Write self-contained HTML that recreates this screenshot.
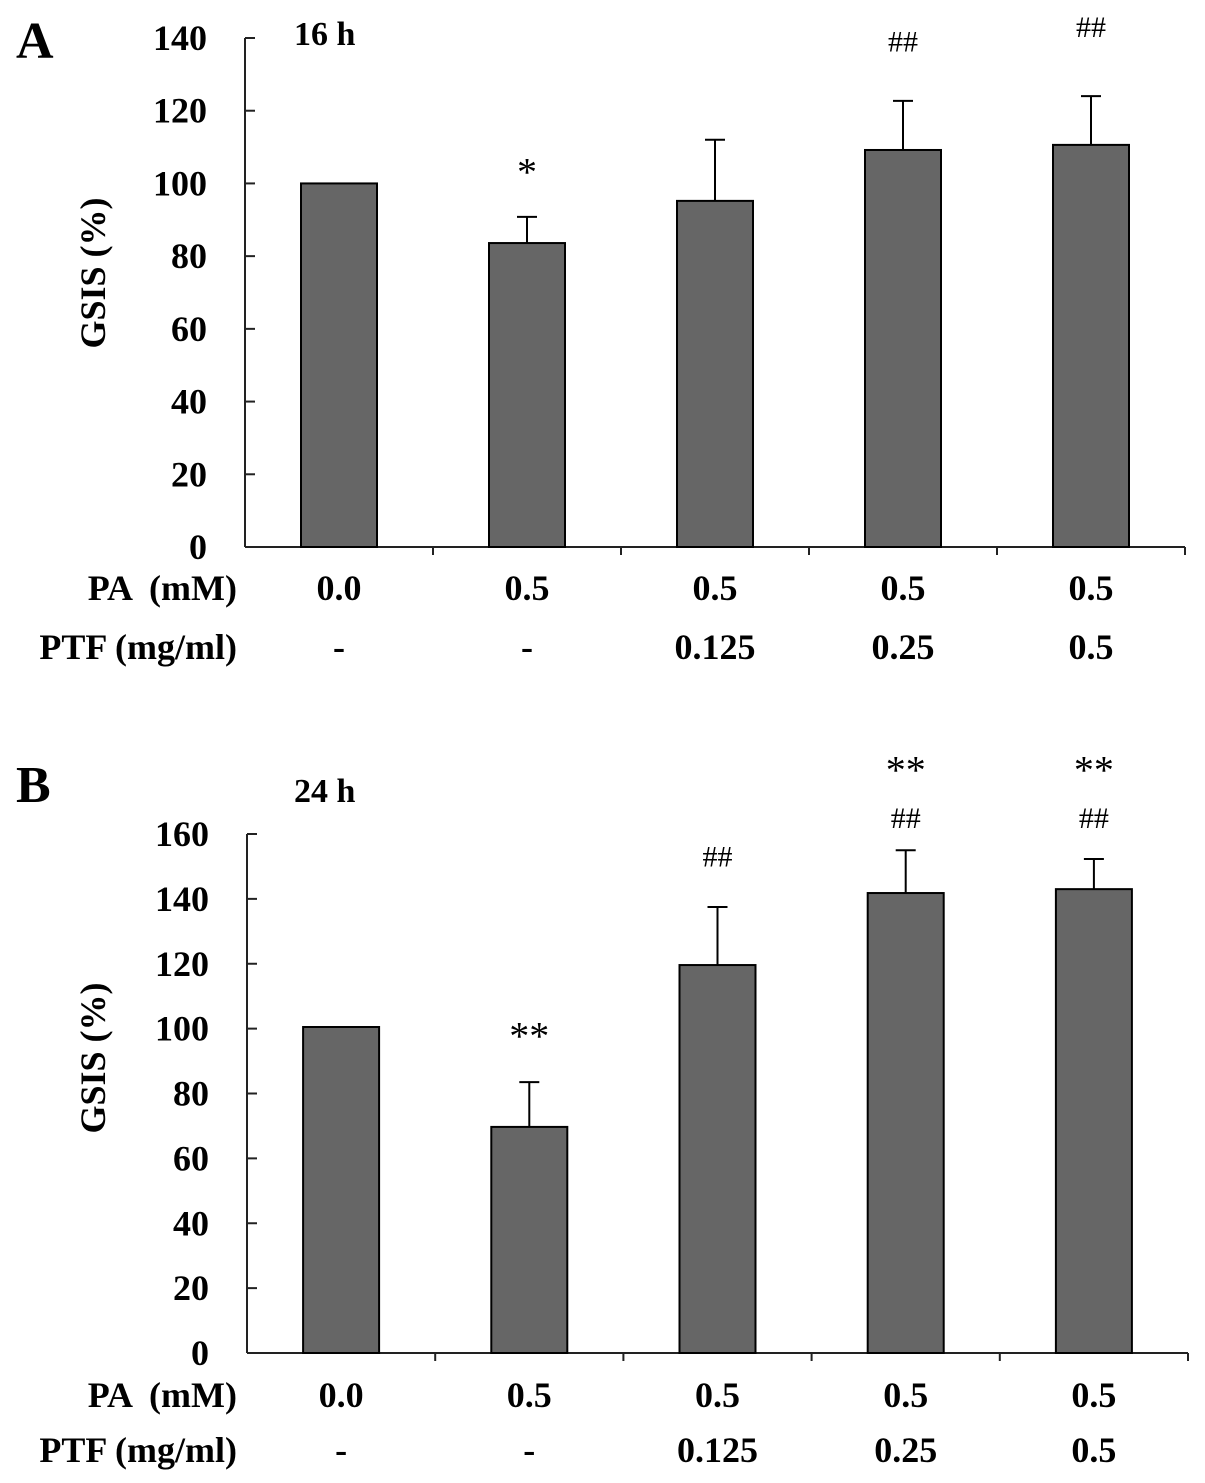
<!DOCTYPE html>
<html><head><meta charset="utf-8"><style>
html,body{margin:0;padding:0;background:#fff;}
svg{display:block;font-family:"Liberation Serif",serif;}
</style></head><body>
<svg id="chart" width="1205" height="1483" viewBox="0 0 1205 1483" xmlns="http://www.w3.org/2000/svg"></svg>
<script>
// Panel A data (16 h)
const catsPA = ["0.0","0.5","0.5","0.5","0.5"];
const catsPTF = ["-","-","0.125","0.25","0.5"];
const valuesA = [100, 83.6, 95.2, 109.2, 110.6];
const errorsA = [0, 7.2, 16.8, 13.5, 13.4];
const marksA = [[], ["*"], [], ["##"], ["##"]];
const markLevelsA = [[], [106], [], [139], [143]];
const ticksA = [0,20,40,60,80,100,120,140];
// Panel B data (24 h)
const valuesB = [100.5, 69.7, 119.6, 141.8, 143];
const errorsB = [0, 13.8, 17.9, 13.2, 9.3];
const marksB = [[], ["**"], ["##"], ["**","##"], ["**","##"]];
const markLevelsB = [[], [101], [153], [183, 165], [183, 165]];
const ticksB = [0,20,40,60,80,100,120,140,160];

const svg = document.getElementById('chart');
const NS = "http://www.w3.org/2000/svg";
function mk(tag, attrs, text){
  const e = document.createElementNS(NS, tag);
  for (const k in attrs) e.setAttribute(k, attrs[k]);
  if (text !== undefined) e.textContent = text;
  svg.appendChild(e);
  return e;
}

function panel(cfg){
  const {x0, x1, y0, yTop, vmax, values, errors, marks, levels, ticks, letter, title, labelY, paY, ptfY, letterY, titleY, key} = cfg;
  const yScale = v => y0 - (v / vmax) * (y0 - yTop);
  const bw = (x1 - x0) / values.length;
  const xc = i => x0 + bw * (i + 0.5);
  const barW = 76;
  let e = mk('line', {x1:x0, y1:yTop, x2:x0, y2:y0, stroke:'#222','stroke-width':2});
  
  
  e = mk('line', {x1:x0, y1:y0, x2:x1, y2:y0, stroke:'#222','stroke-width':2});
  
  
  ticks.forEach(t => {
    const y = yScale(t);
    let l = mk('line', {x1:x0, y1:y, x2:x0+10, y2:y, stroke:'#222','stroke-width':2});
    
    
    let tx = mk('text', {x:x0-38, y:y+12, 'text-anchor':'end','font-size':36,'font-weight':'bold'}, String(t));
    
    
  });
  for (let i = 1; i <= values.length; i++) {
    const x = x0 + bw * i;
    let l = mk('line', {x1:x, y1:y0, x2:x, y2:y0+8, stroke:'#222','stroke-width':2});
    
    
  }
  values.forEach((v, i) => {
    const top = yScale(v);
    if (errors[i] > 0) {
      const ey = yScale(v + errors[i]);
      let l = mk('line', {x1:xc(i), y1:top, x2:xc(i), y2:ey, stroke:'#000','stroke-width':2});
      
      
      l = mk('line', {x1:xc(i)-10, y1:ey, x2:xc(i)+10, y2:ey, stroke:'#000','stroke-width':2});
      
      
    }
    let r = mk('rect', {x:xc(i)-barW/2, y:top, width:barW, height:y0-top, fill:'#666', stroke:'#000','stroke-width':2});
    
    
    marks[i].forEach((m, j) => {
      const cy = yScale(levels[i][j]);
      const star = m.indexOf('*') >= 0;
      let t = mk('text', {x:xc(i), y:cy + (star ? 24 : 10), 'text-anchor':'middle','font-size': star ? 40 : 30}, m);
      
      
    });
    let t = mk('text', {x:xc(i), y:paY, 'text-anchor':'middle','font-size':36,'font-weight':'bold'}, catsPA[i]);
    
    
    t = mk('text', {x:xc(i), y:ptfY, 'text-anchor':'middle','font-size':36,'font-weight':'bold'}, catsPTF[i]);
    
    
  });
  let t = mk('text', {x:237, y:paY, 'text-anchor':'end','font-size':36,'font-weight':'bold','xml:space':'preserve'}, 'PA  (mM)');
  t.setAttribute('style', 'white-space:pre');
  
  
  t = mk('text', {x:237, y:ptfY, 'text-anchor':'end','font-size':36,'font-weight':'bold'}, 'PTF (mg/ml)');
  
  
  t = mk('text', {x:105, y:labelY, 'text-anchor':'middle','font-size':36,'font-weight':'bold', transform:'rotate(-90 105 '+labelY+')'}, 'GSIS (%)');
  
  
  t = mk('text', {x:16, y:letterY, 'font-size':52,'font-weight':'bold'}, letter);
  
  
  t = mk('text', {x:294, y:titleY, 'font-size':34,'font-weight':'bold'}, title);
  
  
}

panel({x0:245, x1:1185, y0:547, yTop:38, vmax:140, values:valuesA, errors:errorsA, marks:marksA, levels:markLevelsA, ticks:ticksA,
  letter:'A', title:'16 h', labelY:273, paY:600, ptfY:659, letterY:58, titleY:45, key:'panel-a'});
panel({x0:247, x1:1188, y0:1353, yTop:834, vmax:160, values:valuesB, errors:errorsB, marks:marksB, levels:markLevelsB, ticks:ticksB,
  letter:'B', title:'24 h', labelY:1058, paY:1407, ptfY:1462, letterY:802, titleY:802, key:'panel-b'});
</script>
</body></html>
